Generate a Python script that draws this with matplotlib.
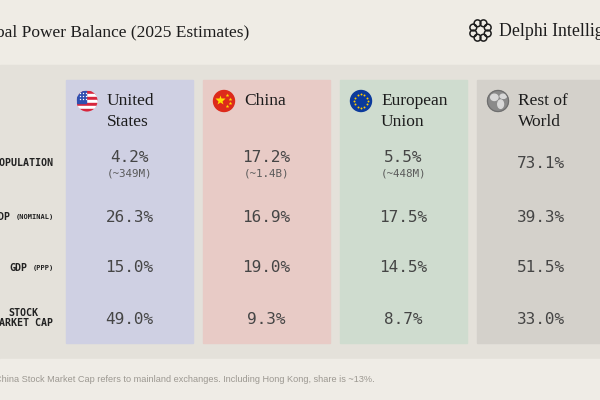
import numpy as np
import matplotlib
matplotlib.use('Agg')
import matplotlib.pyplot as plt
from matplotlib.patches import Rectangle, Circle, Ellipse

# ---- data ----
title = "Global Power Balance (2025 Estimates)"
brand = "Delphi Intelligence"
footnote = "* China Stock Market Cap refers to mainland exchanges. Including Hong Kong, share is ~13%."

regions = [["United", "States"], ["China"], ["European", "Union"], ["Rest of", "World"]]
region_colors = ["#cfd0e3", "#e8cbc6", "#cfdccf", "#d4d1cb"]

metric_main = ["POPULATION", "GDP", "GDP", "STOCK\nMARKET CAP"]
metric_sub = ["", "(NOMINAL)", "(PPP)", ""]

values = [
    ["4.2%", "17.2%", "5.5%", "73.1%"],
    ["26.3%", "16.9%", "17.5%", "39.3%"],
    ["15.0%", "19.0%", "14.5%", "51.5%"],
    ["49.0%", "9.3%", "8.7%", "33.0%"],
]
sub_values = [
    ["(~349M)", "(~1.4B)", "(~448M)", ""],
    ["", "", "", ""],
    ["", "", "", ""],
    ["", "", "", ""],
]

SERIF = "Liberation Serif"
MONO = "DejaVu Sans Mono"

fig = plt.figure(figsize=(6, 4), dpi=100)
ax = fig.add_axes([0, 0, 1, 1])
ax.set_xlim(0, 600)
ax.set_ylim(400, 0)
ax.axis('off')
renderer = fig.canvas.get_renderer()

# backgrounds
ax.add_patch(Rectangle((0, 0), 600, 65, color="#efece5", zorder=0))
ax.add_patch(Rectangle((0, 65), 600, 294, color="#e4e1da", zorder=0))
ax.add_patch(Rectangle((0, 359), 600, 41, color="#efece6", zorder=0))

# header
ax.text(249, 32, title, ha='right', va='center', fontsize=12.5,
        family=SERIF, color="#1c1c1c")
ax.text(499, 31, brand, ha='left', va='center', fontsize=12.8,
        family=SERIF, color="#1c1c1c")
for a in np.linspace(0, 2 * np.pi, 9)[:-1]:
    ax.add_patch(Circle((480.5 + 7.8 * np.cos(a + np.pi / 8), 30.5 + 7.8 * np.sin(a + np.pi / 8)), 3.4,
                        fill=False, lw=1.1, ec="#1c1c1c"))

col_x0, col_w, col_gap = 66, 127, 10
col_top, col_bot = 80, 343
row_y = [163, 217, 268, 320]


def flag(kind, cx, cy, r=10.5):
    clip = Circle((cx, cy), r, transform=ax.transData)
    if kind == 0:
        n = 7
        h = 2 * r / n
        for k in range(n):
            c = "#d7263d" if k % 2 == 0 else "white"
            p = ax.add_patch(Rectangle((cx - r, cy - r + k * h), 2 * r, h, color=c, zorder=3))
            p.set_clip_path(clip)
        p = ax.add_patch(Rectangle((cx - r, cy - r), r * 0.95, h * 4, color="#2f4fb0", zorder=4))
        p.set_clip_path(clip)
        for i in range(3):
            for j in range(3):
                ax.plot(cx - r * 0.62 + i * 0.25 * r, cy - r * 0.78 + j * 0.28 * r, 's',
                        ms=0.9, color="white", mec="none", zorder=5)
    elif kind == 1:
        ax.add_patch(Circle((cx, cy), r, color="#dd2a1b", zorder=3))
        ax.plot(cx - 0.35 * r, cy - 0.05 * r, '*', ms=7, color="#ffde00", mec="none", zorder=4)
        for dx, dy in [(0.3, -0.55), (0.55, -0.2), (0.55, 0.2), (0.3, 0.5)]:
            ax.plot(cx + dx * r, cy + dy * r, '*', ms=2.8, color="#ffde00", mec="none", zorder=4)
    elif kind == 2:
        ax.add_patch(Circle((cx, cy), r, color="#0b3a9c", zorder=3))
        for a in np.linspace(0, 2 * np.pi, 13)[:-1]:
            ax.plot(cx + 0.62 * r * np.cos(a), cy + 0.62 * r * np.sin(a), 'o',
                    ms=1.4, color="#ffcc00", mec="none", zorder=4)
    else:
        ax.add_patch(Circle((cx, cy), r, color="#8a8a8a", zorder=3))
        for (dx, dy, w, h) in [(-0.35, -0.35, 0.7, 0.6), (0.25, 0.3, 0.55, 0.8), (0.5, -0.45, 0.6, 0.4)]:
            e = ax.add_patch(Ellipse((cx + dx * r, cy + dy * r), w * r, h * r,
                                     color="#d8d8d8", zorder=4))
            e.set_clip_path(clip)
        ax.add_patch(Circle((cx, cy), r, fill=False, ec="#6e6e6e", lw=0.8, zorder=5))


for j, name in enumerate(regions):
    x0 = col_x0 + j * (col_w + col_gap)
    ax.add_patch(Rectangle((x0, col_top), col_w, col_bot - col_top,
                           color=region_colors[j], zorder=1))
    flag(j, x0 + 21, 101)
    for k, line in enumerate(name):
        ax.text(x0 + 41, 101 + k * 21, line, ha='left', va='center',
                fontsize=12.5, family=SERIF, color="#1c1c1c", zorder=6)
    cx = x0 + col_w / 2
    for i in range(len(values)):
        v = values[i][j]
        s = sub_values[i][j]
        if s:
            ax.text(cx, row_y[i] - 5, v, ha='center', va='center', fontsize=11.5,
                    family=MONO, color="#454545", zorder=6)
            ax.text(cx, row_y[i] + 10, s, ha='center', va='center', fontsize=7.8,
                    family=MONO, color="#5a5a5a", zorder=6)
        else:
            ax.text(cx, row_y[i], v, ha='center', va='center', fontsize=11.5,
                    family=MONO, color="#454545", zorder=6)

# row labels
label_right = 54
for i, lab in enumerate(metric_main):
    right = label_right
    if metric_sub[i]:
        t = ax.text(right, row_y[i], metric_sub[i], ha='right', va='center', fontsize=5,
                    family=MONO, weight='bold', color="#222222")
        bb = t.get_window_extent(renderer)
        right = bb.x0 - 5
        ax.text(right, row_y[i], lab, ha='right', va='center', fontsize=7.2,
                family=MONO, weight='bold', color="#222222")
    else:
        ax.text(right - 1, row_y[i] - (2 if "\n" in lab else 0), lab, ha='right', va='center',
                fontsize=7.2, family=MONO, weight='bold', color="#222222",
                multialignment='center', linespacing=1.05)

ax.text(375, 379, footnote, ha='right', va='center', fontsize=6.6,
        family="Liberation Sans", color="#9c9891")

fig.savefig("out.png", dpi=100)
